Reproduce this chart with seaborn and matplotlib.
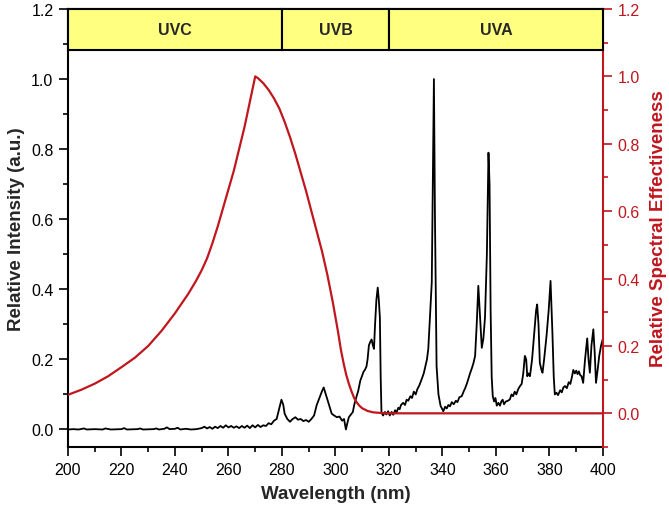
import numpy as np
import pandas as pd
import seaborn as sns
import matplotlib.pyplot as plt
from matplotlib.patches import Rectangle
from matplotlib.ticker import MultipleLocator

# Lamp emission spectrum (relative intensity, left axis)
spec_nm = [200, 202, 204, 206, 207, 210, 213, 214, 216, 220, 221, 222, 226, 227, 228, 232, 233, 234,
           236, 237, 238, 240, 241, 242, 244, 246, 248, 250, 251, 252, 253, 254, 255, 256, 257, 258,
           259, 260, 261, 262, 263, 264, 265, 266, 267, 268, 269, 270, 271, 272, 273, 274, 275, 276,
           277, 278, 279, 279.8, 280.5, 281, 282, 283, 284, 285, 286, 287, 288, 289, 290, 291, 292,
           293, 294, 295, 295.6, 296, 297, 298, 298.6, 299.5, 300.5, 301.5, 302.5, 303.2, 303.9, 304.5,
           305, 306, 306.5, 307, 307.9, 308.5, 309.3, 309.8, 310.5, 311, 311.6, 312, 312.5, 313, 313.5,
           314, 314.4, 314.8, 315.3, 315.8, 316.2, 316.6, 316.9,
           317.2, 317.8, 318.5, 319, 319.7, 320.3, 321, 321.6, 322.3, 322.8, 323.5, 324, 324.5, 325.3,
           326, 326.6, 327.2, 328, 328.6, 329.3, 330, 330.6, 331.3, 332.2, 333, 333.6, 334.2, 334.7,
           335.3, 336, 336.4, 336.8, 337.2, 337.8, 338.5, 339.3, 339.8, 340.3, 341, 341.6, 342.2, 342.8,
           343.5, 344.2, 345, 345.6, 346.3, 347.2, 348, 348.6, 349.3, 350.3, 351, 351.6, 352.2, 352.8,
           353.4, 354, 354.7, 355.3, 355.9, 356.6, 357.2, 357.6, 358, 358.4, 358.8, 359.3, 359.8, 360.3,
           360.9, 361.5, 362, 362.5, 363, 363.7, 364.5, 365.2, 365.8, 366.4, 367, 367.6, 368.3, 369,
           369.6, 370.2, 370.8, 371.3, 371.7, 372.2, 372.7, 373.5, 374.3, 375, 375.4, 375.9, 376.4, 377,
           377.4, 378, 378.9, 379.7, 380.4, 381.1, 381.6, 382, 382.6, 383.2, 384, 384.6, 385.2, 385.8,
           386.5, 387.2, 387.8, 388.4, 388.9, 389.5, 390, 390.5, 391, 391.5, 392, 392.6, 393.3, 394.1,
           394.6, 395.1, 395.7, 396.4, 396.9, 397.4, 398, 398.6, 399.3, 400]
spec_int = [0.0, 0.001, 0.0, 0.003, 0.0, 0.001, 0.0, 0.003, 0.0, 0.001, 0.004, 0.0, 0.001, 0.003, 0.0,
            0.001, 0.003, 0.0, 0.002, 0.006, 0.001, 0.002, 0.005, 0.0, 0.002, 0.0, 0.001, 0.004, 0.008,
            0.003, 0.007, 0.002, 0.008, 0.004, 0.010, 0.005, 0.012, 0.006, 0.010, 0.005, 0.009, 0.004,
            0.010, 0.005, 0.011, 0.004, 0.012, 0.006, 0.013, 0.007, 0.012, 0.010, 0.018, 0.015, 0.025,
            0.030, 0.060, 0.085, 0.070, 0.045, 0.030, 0.022, 0.030, 0.035, 0.028, 0.030, 0.024, 0.027,
            0.022, 0.030, 0.040, 0.070, 0.090, 0.110, 0.120, 0.110, 0.085, 0.060, 0.045, 0.040, 0.035,
            0.037, 0.025, 0.030, 0.000, 0.020, 0.035, 0.045, 0.050, 0.070, 0.095, 0.110, 0.140, 0.150,
            0.165, 0.170, 0.180, 0.200, 0.240, 0.250, 0.257, 0.240, 0.230, 0.300, 0.370, 0.405, 0.370,
            0.320, 0.150,
            0.048, 0.040, 0.050, 0.043, 0.052, 0.040, 0.050, 0.042, 0.055, 0.048, 0.062, 0.058, 0.070, 0.076,
            0.070, 0.085, 0.082, 0.095, 0.090, 0.108, 0.100, 0.115, 0.125, 0.143, 0.160, 0.180, 0.200, 0.230,
            0.320, 0.420, 0.700, 1.000, 0.600, 0.180, 0.100, 0.067, 0.060, 0.052, 0.065, 0.060, 0.070, 0.066,
            0.078, 0.072, 0.082, 0.078, 0.092, 0.095, 0.110, 0.120, 0.135, 0.160, 0.175, 0.190, 0.210, 0.300,
            0.410, 0.330, 0.233, 0.260, 0.320, 0.500, 0.790, 0.700, 0.340, 0.150, 0.095, 0.080, 0.090, 0.068,
            0.076, 0.068, 0.080, 0.085, 0.072, 0.080, 0.082, 0.086, 0.100, 0.095, 0.108, 0.100, 0.115, 0.124,
            0.130, 0.160, 0.210, 0.200, 0.152, 0.160, 0.152, 0.200, 0.276, 0.340, 0.357, 0.300, 0.190, 0.170,
            0.162, 0.200, 0.267, 0.340, 0.424, 0.276, 0.150, 0.100, 0.105, 0.098, 0.112, 0.106, 0.120, 0.124,
            0.118, 0.135, 0.130, 0.150, 0.170, 0.160, 0.168, 0.158, 0.166, 0.155, 0.152, 0.133, 0.200, 0.260,
            0.200, 0.162, 0.240, 0.286, 0.220, 0.133, 0.170, 0.210, 0.240, 0.260]

# Germicidal spectral effectiveness (right axis)
eff_nm = [200, 205, 210, 215, 220, 225, 230, 235, 240, 245, 248, 250, 252, 254, 256, 258, 260, 262,
          264, 266, 268, 270, 271, 273, 275, 277, 279, 281, 283, 285, 287, 289, 291, 293, 295, 297,
          298, 299, 300, 301, 302, 303, 304, 305, 306, 307, 308, 309, 310, 312, 314, 317, 320, 400]
eff_val = [0.055, 0.070, 0.088, 0.110, 0.137, 0.165, 0.200, 0.245, 0.297, 0.355, 0.395, 0.425, 0.460,
           0.505, 0.555, 0.610, 0.665, 0.720, 0.785, 0.850, 0.925, 1.000, 0.995, 0.980, 0.960, 0.935,
           0.905, 0.865, 0.820, 0.770, 0.715, 0.660, 0.600, 0.540, 0.480, 0.410, 0.370, 0.330, 0.285,
           0.240, 0.190, 0.150, 0.115, 0.088, 0.065, 0.045, 0.032, 0.022, 0.015, 0.007, 0.003, 0.001,
           0.0, 0.0]

band_names = ['UVC', 'UVB', 'UVA']
band_edges = [200, 280, 320, 400]

assert len(spec_nm) == len(spec_int) and len(eff_nm) == len(eff_val)

red = '#C0161E'
sns.set_style('ticks')
plt.rcParams['font.family'] = ['Liberation Sans', 'DejaVu Sans']

spec = pd.DataFrame({'nm': spec_nm, 'val': spec_int})
eff = pd.DataFrame({'nm': eff_nm, 'val': eff_val})

fig = plt.figure(figsize=(6.69, 5.06), dpi=100)
ax = fig.add_axes([0.1016, 0.1146, 0.7997, 0.8656])
sns.lineplot(data=spec, x='nm', y='val', ax=ax, color='black', linewidth=1.3, sort=False)
ax.set_xlim(200, 400)
ax.set_ylim(-0.05, 1.2)

ax2 = ax.twinx()
sns.lineplot(data=eff, x='nm', y='val', ax=ax2, color=red, linewidth=1.6, sort=False)
ax2.set_ylim(-0.1, 1.2)
ax2.set_xlim(200, 400)

# Tick setup
ax.xaxis.set_major_locator(MultipleLocator(20))
ax.xaxis.set_minor_locator(MultipleLocator(10))
ax.yaxis.set_major_locator(MultipleLocator(0.2))
ax.yaxis.set_minor_locator(MultipleLocator(0.1))
ax2.yaxis.set_major_locator(MultipleLocator(0.2))
ax2.yaxis.set_minor_locator(MultipleLocator(0.1))
ax.yaxis.set_major_formatter(plt.FormatStrFormatter('%.1f'))
ax2.yaxis.set_major_formatter(plt.FormatStrFormatter('%.1f'))

for a in (ax, ax2):
    a.tick_params(which='major', direction='out', length=6.5, width=1.2, labelsize=11.5, pad=4)
    a.tick_params(which='minor', direction='out', length=3.6, width=1.2)
ax.tick_params(axis='both', which='both', colors='black')
ax.tick_params(axis='x', which='both', top=False)
ax2.tick_params(axis='y', which='both', colors=red)

for s in ['left', 'bottom', 'top']:
    ax.spines[s].set_linewidth(1.5)
    ax.spines[s].set_color('black')
ax.spines['right'].set_visible(False)
ax2.spines['left'].set_visible(False)
ax2.spines['top'].set_visible(False)
ax2.spines['bottom'].set_visible(False)
ax2.spines['right'].set_color(red)
ax2.spines['right'].set_linewidth(1.5)

ax.set_xlabel('Wavelength (nm)', fontsize=13.5, fontweight='bold', labelpad=6)
ax.set_ylabel('Relative Intensity (a.u.)', fontsize=13.5, fontweight='bold', labelpad=4)
ax2.set_ylabel('Relative Spectral Effectiveness', fontsize=13.5, fontweight='bold', color=red, labelpad=7)

# UV band boxes along the top
trans = ax2.get_xaxis_transform()
for name, x0, x1 in zip(band_names, band_edges[:-1], band_edges[1:]):
    ax2.add_patch(Rectangle((x0, 0.906), x1 - x0, 0.094, transform=trans, facecolor='#FFFF80',
                            edgecolor='black', linewidth=1.5, zorder=3, clip_on=False))
    ax2.text((x0 + x1) / 2, 0.953, name, transform=trans, ha='center', va='center',
             fontsize=11.5, fontweight='bold', zorder=4)

fig.savefig('out.png', dpi=100)
plt.close()
